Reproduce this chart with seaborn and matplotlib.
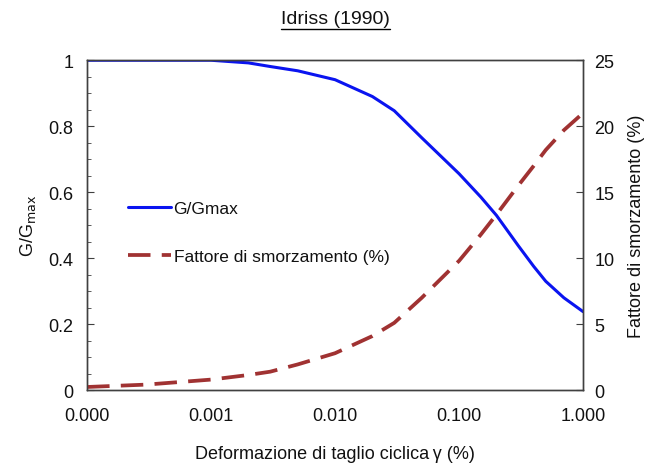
import numpy as np
import pandas as pd
import matplotlib
matplotlib.use('Agg')
import matplotlib.pyplot as plt
import seaborn as sns
from matplotlib.ticker import LogLocator, FixedLocator, MultipleLocator, NullFormatter, FormatStrFormatter

# Idriss (1990)
strain = [0.0001, 0.0003, 0.001, 0.002, 0.003, 0.005, 0.01, 0.02, 0.03, 0.05,
          0.1, 0.15, 0.2, 0.3, 0.4, 0.5, 0.7, 1.0]
g_gmax = [1.0, 1.0, 1.0, 0.992, 0.981, 0.968, 0.941, 0.89, 0.847, 0.765,
          0.656, 0.585, 0.53, 0.438, 0.375, 0.33, 0.28, 0.238]
damping = [0.24, 0.42, 0.8, 1.15, 1.4, 1.95, 2.8, 4.1, 5.1, 7.0,
           9.8, 11.8, 13.3, 15.5, 17.0, 18.2, 19.7, 21.0]

x_ticks = [0.0001, 0.001, 0.01, 0.1, 1.0]
x_labels = ['0.000', '0.001', '0.010', '0.100', '1.000']

sns.set_style('white')
plt.rcParams['font.family'] = ['Liberation Sans', 'DejaVu Sans']
plt.rcParams['text.color'] = '#111111'
plt.rcParams['axes.labelcolor'] = '#111111'
plt.rcParams['xtick.labelcolor'] = '#111111'
plt.rcParams['ytick.labelcolor'] = '#111111'

df = pd.DataFrame({'strain': strain, 'g': g_gmax, 'd': damping})

fig, ax = plt.subplots(figsize=(6.45, 4.64), dpi=100)
fig.subplots_adjust(left=0.135, right=0.904, top=0.868, bottom=0.157)

sns.lineplot(data=df, x='strain', y='g', ax=ax, color='#0a14f0', linewidth=2.2,
             label='G/Gmax', legend=False)
ax2 = ax.twinx()
sns.lineplot(data=df, x='strain', y='d', ax=ax2, color='#a03232', linewidth=2.7,
             label='Fattore di smorzamento (%)', legend=False)
ax2.lines[0].set_dashes([6, 3])

ax.set_xscale('log')
ax.set_xlim(0.0001, 1.0)
ax.set_ylim(0, 1)
ax2.set_ylim(0, 25)

ax.xaxis.set_major_locator(FixedLocator(x_ticks))
ax.set_xticklabels(x_labels)
ax.xaxis.set_minor_locator(LogLocator(base=10, subs=np.arange(2, 10) * 1.0))
ax.xaxis.set_minor_formatter(NullFormatter())
ax.yaxis.set_major_locator(MultipleLocator(0.2))
ax.yaxis.set_minor_locator(MultipleLocator(0.05))
ax.yaxis.set_major_formatter(FormatStrFormatter('%g'))
ax2.yaxis.set_major_locator(MultipleLocator(5))
ax2.yaxis.set_major_formatter(FormatStrFormatter('%g'))

ax.tick_params(axis='both', which='major', direction='in', length=5, labelsize=13, color='#404040')
ax.tick_params(axis='both', which='minor', direction='in', length=3, color='#404040')
ax.tick_params(axis='x', pad=12)
ax.tick_params(axis='y', pad=10)
ax2.tick_params(axis='y', direction='in', length=5, labelsize=13, pad=8, color='#404040')

for a in (ax, ax2):
    for s in a.spines.values():
        s.set_color('#404040')
        s.set_linewidth(1.0)

ax.set_xlabel('Deformazione di taglio ciclica\u2009\u03b3 (%)', fontsize=13, labelpad=15)
ax.set_ylabel('G/G$_{\\rm max}$', fontsize=13, labelpad=7)
ax2.set_ylabel('Fattore di smorzamento (%)', fontsize=13, labelpad=10)

t = ax.set_title('Idriss (1990)', fontsize=14, pad=27)
fig.canvas.draw()
bb = t.get_window_extent().transformed(fig.transFigure.inverted())
fig.add_artist(plt.Line2D([bb.x0, bb.x1], [bb.y0 - 0.004, bb.y0 - 0.004],
                          color='black', linewidth=1.0, transform=fig.transFigure))

h1, l1 = ax.get_legend_handles_labels()
h2, l2 = ax2.get_legend_handles_labels()
ax2.legend(h1 + h2, l1 + l2, loc='upper left', bbox_to_anchor=(0.05, 0.62),
           frameon=False, fontsize=12.5, labelspacing=1.85, handlelength=2.5,
           handletextpad=0.15)

plt.savefig('out.png', dpi=100)
